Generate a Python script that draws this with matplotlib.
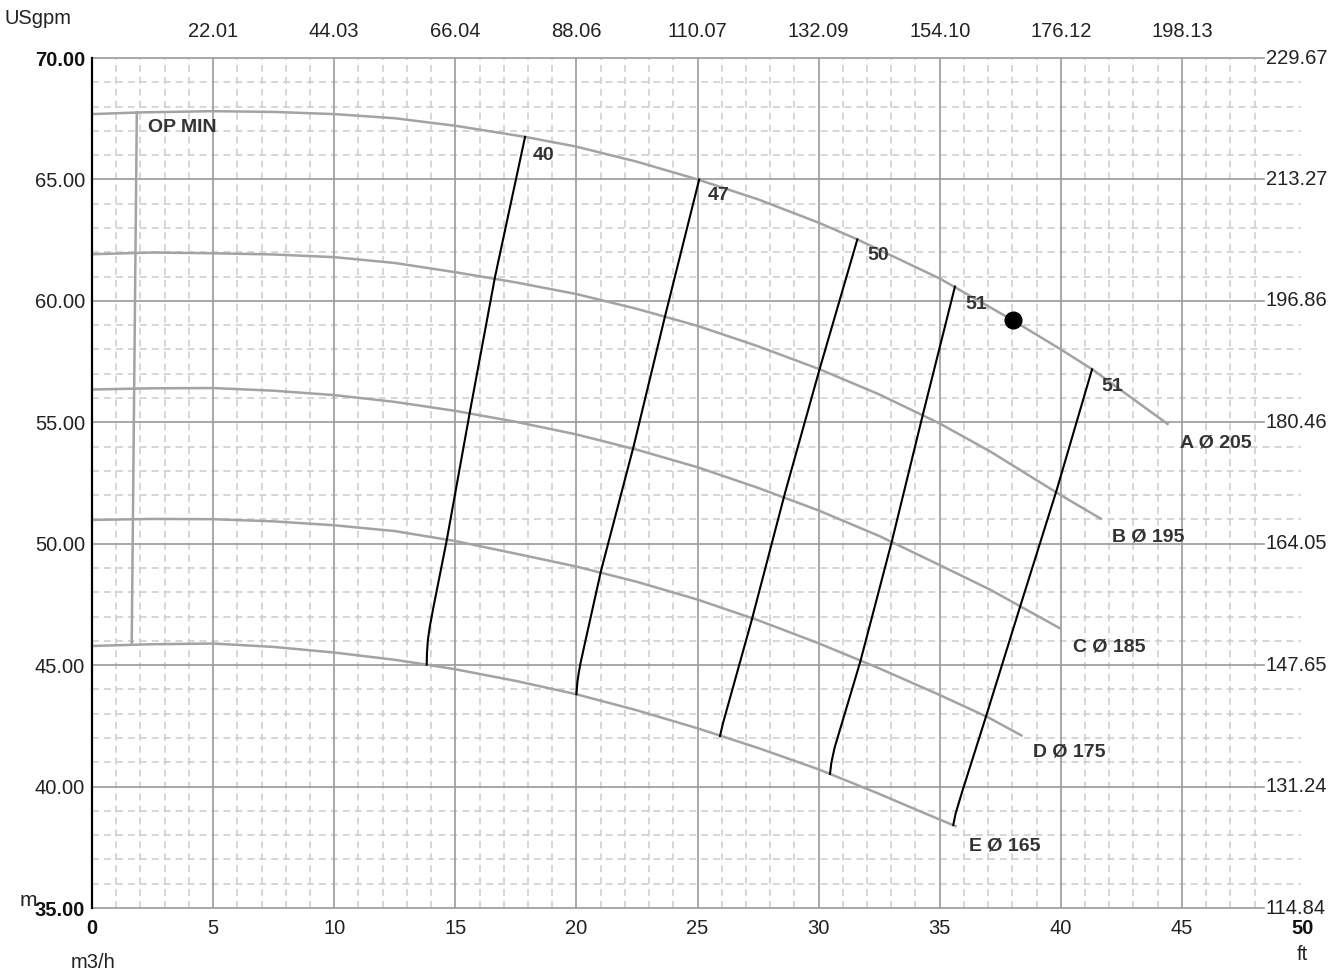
import numpy as np
import matplotlib
matplotlib.use("Agg")
import matplotlib.pyplot as plt

plt.rcParams['font.family'] = ['Liberation Sans', 'DejaVu Sans']
plt.rcParams['lines.scale_dashes'] = False

# head curves (flow m3/h, head m)
curve_names = ['A Ø 205', 'B Ø 195', 'C Ø 185', 'D Ø 175', 'E Ø 165']
a_x = [0, 2, 5, 7.5, 10, 12.5, 15, 17.9, 20, 22.5, 25, 27.5, 30, 31.6, 35, 38.0, 40, 41.3, 44.45]
a_y = [67.69, 67.76, 67.81, 67.78, 67.69, 67.52, 67.21, 66.75, 66.35, 65.73, 65.0, 64.18, 63.22, 62.53, 60.92, 59.21, 58.0, 57.18, 54.9]
b_x = [0, 2.5, 5, 7.5, 10, 12.5, 15, 17.5, 20, 22.5, 25, 27.5, 30, 32.5, 35, 37.1, 40, 41.7]
b_y = [61.92, 61.99, 61.96, 61.91, 61.8, 61.56, 61.18, 60.76, 60.28, 59.67, 58.97, 58.13, 57.2, 56.15, 54.95, 53.79, 52.0, 51.0]
c_x = [0, 2.5, 5, 7.5, 10, 12.5, 15, 17.5, 20, 22.5, 25, 27.5, 30, 32.5, 35, 37.1, 40.03]
c_y = [56.35, 56.4, 56.41, 56.3, 56.12, 55.84, 55.47, 55.02, 54.5, 53.87, 53.15, 52.3, 51.37, 50.32, 49.12, 48.1, 46.48]
d_x = [0, 2.5, 5, 7.5, 10, 12.5, 15, 17.5, 20, 22.5, 25, 27.5, 30, 32.5, 35, 37.0, 38.42]
d_y = [50.98, 51.02, 51.01, 50.92, 50.76, 50.52, 50.11, 49.59, 49.06, 48.43, 47.7, 46.85, 45.9, 44.87, 43.77, 42.85, 42.08]
e_x = [0, 2.5, 5, 7.5, 10, 12.5, 13.82, 15, 17.5, 20, 22.5, 25, 27.5, 30, 32.5, 34.05, 35.7]
e_y = [45.79, 45.86, 45.89, 45.75, 45.52, 45.22, 45.02, 44.83, 44.35, 43.8, 43.14, 42.4, 41.59, 40.71, 39.7, 39.04, 38.35]
curve_label_xy = [(44.92, 54.13), (42.1, 50.26), (40.49, 45.74), (38.84, 41.41), (36.22, 37.57)]

# iso-efficiency lines
eff_labels = ['40', '47', '50', '51', '51']
eff40_x = [13.82, 13.83, 13.87, 13.95, 14.09, 14.64, 15.61, 16.64, 17.88]
eff40_y = [45.02, 45.5, 46.05, 46.6, 47.35, 50.11, 55.47, 60.99, 66.75]
eff47_x = [20.0, 20.04, 20.1, 20.17, 20.35, 21.02, 22.36, 23.66, 25.07]
eff47_y = [43.8, 44.3, 44.7, 45.08, 45.9, 48.9, 54.0, 59.37, 65.0]
eff50_x = [25.93, 26.05, 27.24, 28.61, 30.03, 31.6]
eff50_y = [42.08, 42.6, 46.86, 52.08, 57.15, 62.53]
eff51a_x = [30.47, 30.53, 30.66, 31.72, 33.02, 34.3, 35.63]
eff51a_y = [40.52, 41.0, 41.6, 45.14, 50.08, 55.3, 60.59]
eff51b_x = [35.56, 35.66, 35.9, 36.91, 38.32, 39.83, 41.29]
eff51b_y = [38.42, 38.9, 39.7, 42.88, 47.41, 52.21, 57.18]
eff_label_xy = [(18.2, 66.0), (25.43, 64.32), (32.0, 61.85), (36.04, 59.87), (41.66, 56.47)]

opmin_x = [1.64, 1.85]
opmin_y = [45.86, 67.76]
duty_x, duty_y = 38.04, 59.21

x_ticks = [0, 5, 10, 15, 20, 25, 30, 35, 40, 45, 50]
y_ticks = [35, 40, 45, 50, 55, 60, 65, 70]
y_tick_labels = ['35.00', '40.00', '45.00', '50.00', '55.00', '60.00', '65.00', '70.00']
usgpm_labels = ['22.01', '44.03', '66.04', '88.06', '110.07', '132.09', '154.10', '176.12', '198.13']
ft_labels = ['114.84', '131.24', '147.65', '164.05', '180.46', '196.86', '213.27', '229.67']

fig = plt.figure(figsize=(13.3, 9.73), dpi=100)
ax = fig.add_axes([92 / 1330, 1 - 908 / 973, (1303 - 92) / 1330, (908 - 58) / 973])
ax.set_xlim(0, 50)
ax.set_ylim(35, 70)
for s in ['top', 'right', 'bottom']:
    ax.spines[s].set_visible(False)
ax.spines['left'].set_color('black')
ax.spines['left'].set_linewidth(1.6)
ax.spines['left'].set_zorder(6)

right_x = 48.4
minor_col = '#cccccc'
major_col = '#9a9a9a'

# grid
for xv in range(1, 49):
    if xv % 5:
        ax.plot([xv, xv], [35, 70], color=minor_col, lw=1.1, ls=(0, (5, 3.6)), zorder=1)
for yv in range(36, 70):
    if yv % 5:
        ax.plot([0, 49.9], [yv, yv], color=minor_col, lw=1.1, ls=(0, (5, 3.6)), zorder=1, clip_on=False)
for xv in x_ticks[1:-1]:
    ax.plot([xv, xv], [35, 70], color=major_col, lw=1.2, zorder=2)
for yv in y_ticks:
    ax.plot([0, right_x], [yv, yv], color=major_col, lw=1.2, zorder=2, clip_on=False)

# head curves
curve_col = '#a3a3a3'
for (cx, cy), name, (lx, ly) in zip([(a_x, a_y), (b_x, b_y), (c_x, c_y), (d_x, d_y), (e_x, e_y)],
                                    curve_names, curve_label_xy):
    ax.plot(cx, cy, color=curve_col, lw=1.8, zorder=3, solid_capstyle='butt', solid_joinstyle='round')
    ax.text(lx, ly, name, fontsize=14, fontweight='bold', color='#333333', ha='left', va='center', zorder=7)

ax.plot(opmin_x, opmin_y, color=curve_col, lw=1.8, zorder=3)
ax.text(2.3, 67.15, 'OP MIN', fontsize=14, fontweight='bold', color='#333333', ha='left', va='center')

for (ex, ey), lab, (lx, ly) in zip([(eff40_x, eff40_y), (eff47_x, eff47_y), (eff50_x, eff50_y),
                                    (eff51a_x, eff51a_y), (eff51b_x, eff51b_y)],
                                   eff_labels, eff_label_xy):
    ax.plot(ex, ey, color='black', lw=1.5, zorder=4, solid_joinstyle='round')
    ax.text(lx, ly, lab, fontsize=14, fontweight='bold', color='#333333', ha='left', va='center', zorder=7)

ax.plot(duty_x, duty_y, 'o', color='black', markersize=12, zorder=5)

# ticks
ax.set_xticks(x_ticks)
ax.set_xticklabels([str(v) for v in x_ticks])
ax.set_yticks(y_ticks)
ax.set_yticklabels(y_tick_labels)
ax.tick_params(length=0, labelsize=14.5, labelcolor='#222222')
ax.tick_params(axis='x', pad=8)
ax.tick_params(axis='y', pad=5)
for t in [ax.get_xticklabels()[0], ax.get_xticklabels()[-1], ax.get_yticklabels()[0], ax.get_yticklabels()[-1]]:
    t.set_fontweight('bold')
    t.set_color('#111111')

for xv, lab in zip(x_ticks[1:-1], usgpm_labels):
    ax.annotate(lab, xy=(xv, 1), xycoords=('data', 'axes fraction'), xytext=(0, 19),
                textcoords='offset points', ha='center', va='center', fontsize=14.5, color='#222222')
for yv, lab in zip(y_ticks, ft_labels):
    ax.annotate(lab, xy=(right_x, yv), xytext=(1, 0), textcoords='offset points',
                ha='left', va='center', fontsize=14.5, color='#222222', annotation_clip=False)

fig.text(5 / 1330, 1 - 18 / 973, 'USgpm', fontsize=14.5, color='#222222', ha='left', va='center')
fig.text(93 / 1330, 1 - 962 / 973, 'm3/h', fontsize=14.5, color='#222222', ha='center', va='center')
fig.text(1302 / 1330, 1 - 954 / 973, 'ft', fontsize=14.5, color='#222222', ha='center', va='center')
fig.text(28 / 1330, 1 - 901 / 973, 'm', fontsize=15, color='#222222', ha='center', va='center')

fig.savefig('out.png', dpi=100, facecolor='white')
